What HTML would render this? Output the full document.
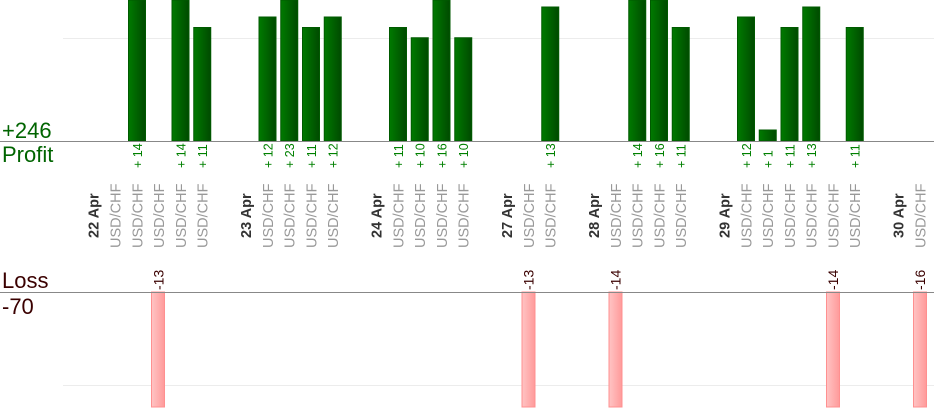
<!DOCTYPE html>
<html><head><meta charset="utf-8"><style>
html,body{margin:0;padding:0;background:#fff;width:934px;height:420px;overflow:hidden}
svg{display:block;font-family:"Liberation Sans",Arial,sans-serif}
</style></head><body>
<svg width="934" height="420" viewBox="0 0 934 420" xmlns="http://www.w3.org/2000/svg">
<defs>
<linearGradient id="g" x1="0" x2="1" y1="0" y2="0"><stop offset="0" stop-color="#007a00"/><stop offset="1" stop-color="#004a00"/></linearGradient>
<linearGradient id="r" x1="0" x2="1" y1="0" y2="0"><stop offset="0" stop-color="#ffc4c4"/><stop offset="1" stop-color="#ff9a9a"/></linearGradient>
</defs>
<line x1="63" x2="934" y1="38.5" y2="38.5" stroke="#ececec"/>
<line x1="63" x2="934" y1="385.5" y2="385.5" stroke="#ececec"/>
<g fill="url(#g)" stroke="#005a00" stroke-width="1">
<rect x="128.5" y="0" width="17" height="141"/>
<rect x="172" y="0" width="17" height="141"/>
<rect x="193.75" y="27.5" width="17" height="113.5"/>
<rect x="259" y="17" width="17" height="124"/>
<rect x="280.75" y="0" width="17" height="141"/>
<rect x="302.5" y="27.5" width="17" height="113.5"/>
<rect x="324.25" y="17" width="17" height="124"/>
<rect x="389.5" y="27.5" width="17" height="113.5"/>
<rect x="411.25" y="37.75" width="17" height="103.25"/>
<rect x="433" y="0" width="17" height="141"/>
<rect x="454.75" y="37.75" width="17" height="103.25"/>
<rect x="541.75" y="7" width="17" height="134"/>
<rect x="628.75" y="0" width="17" height="141"/>
<rect x="650.5" y="0" width="17" height="141"/>
<rect x="672.25" y="27.5" width="17" height="113.5"/>
<rect x="737.5" y="17" width="17" height="124"/>
<rect x="759.25" y="130" width="17" height="11"/>
<rect x="781" y="27.5" width="17" height="113.5"/>
<rect x="802.75" y="7" width="17" height="134"/>
<rect x="846.25" y="27.5" width="17" height="113.5"/>
</g>
<g fill="url(#r)" stroke="#ff9090" stroke-width="1">
<rect x="151.5" y="292" width="13" height="115"/>
<rect x="522" y="292" width="13" height="115"/>
<rect x="609" y="292" width="13" height="115"/>
<rect x="826.5" y="292" width="13" height="115"/>
<rect x="913.5" y="292" width="13" height="115"/>
</g>
<line x1="0" x2="934" y1="141.5" y2="141.5" stroke="#888"/>
<line x1="0" x2="934" y1="292.5" y2="292.5" stroke="#888"/>
<text x="2" y="138" font-size="22" fill="#006400">+246</text>
<text x="2" y="162" font-size="22" fill="#006400">Profit</text>
<text x="2" y="288" font-size="22" fill="#3a0000">Loss</text>
<text x="2" y="314" font-size="22" fill="#3a0000">-70</text>
<g font-size="12.5" fill="#008000">
<text transform="translate(141.75,168) rotate(-90)">+ 14</text>
<text transform="translate(185.25,168) rotate(-90)">+ 14</text>
<text transform="translate(207,168) rotate(-90)">+ 11</text>
<text transform="translate(272.25,168) rotate(-90)">+ 12</text>
<text transform="translate(294,168) rotate(-90)">+ 23</text>
<text transform="translate(315.75,168) rotate(-90)">+ 11</text>
<text transform="translate(337.5,168) rotate(-90)">+ 12</text>
<text transform="translate(402.75,168) rotate(-90)">+ 11</text>
<text transform="translate(424.5,168) rotate(-90)">+ 10</text>
<text transform="translate(446.25,168) rotate(-90)">+ 16</text>
<text transform="translate(468,168) rotate(-90)">+ 10</text>
<text transform="translate(555,168) rotate(-90)">+ 13</text>
<text transform="translate(642,168) rotate(-90)">+ 14</text>
<text transform="translate(663.75,168) rotate(-90)">+ 16</text>
<text transform="translate(685.5,168) rotate(-90)">+ 11</text>
<text transform="translate(750.75,168) rotate(-90)">+ 12</text>
<text transform="translate(772.5,168) rotate(-90)">+ 1</text>
<text transform="translate(794.25,168) rotate(-90)">+ 11</text>
<text transform="translate(816,168) rotate(-90)">+ 13</text>
<text transform="translate(859.5,168) rotate(-90)">+ 11</text>
</g>
<g font-size="14" fill="#3a0000">
<text transform="translate(163.5,290) rotate(-90)">-13</text>
<text transform="translate(533.5,290) rotate(-90)">-13</text>
<text transform="translate(620.5,290) rotate(-90)">-14</text>
<text transform="translate(838,290) rotate(-90)">-14</text>
<text transform="translate(925,290) rotate(-90)">-16</text>
</g>
<g font-size="14.5" font-weight="bold" fill="#333">
<text transform="translate(98.5,238) rotate(-90)">22 Apr</text>
<text transform="translate(250.75,238) rotate(-90)">23 Apr</text>
<text transform="translate(381.25,238) rotate(-90)">24 Apr</text>
<text transform="translate(511.75,238) rotate(-90)">27 Apr</text>
<text transform="translate(598.75,238) rotate(-90)">28 Apr</text>
<text transform="translate(729.25,238) rotate(-90)">29 Apr</text>
<text transform="translate(903.25,238) rotate(-90)">30 Apr</text>
</g>
<g font-size="14.5" fill="#999">
<text transform="translate(120.5,248) rotate(-90)">USD/CHF</text>
<text transform="translate(142.25,248) rotate(-90)">USD/CHF</text>
<text transform="translate(164,248) rotate(-90)">USD/CHF</text>
<text transform="translate(185.75,248) rotate(-90)">USD/CHF</text>
<text transform="translate(207.5,248) rotate(-90)">USD/CHF</text>
<text transform="translate(272.75,248) rotate(-90)">USD/CHF</text>
<text transform="translate(294.5,248) rotate(-90)">USD/CHF</text>
<text transform="translate(316.25,248) rotate(-90)">USD/CHF</text>
<text transform="translate(338,248) rotate(-90)">USD/CHF</text>
<text transform="translate(403.25,248) rotate(-90)">USD/CHF</text>
<text transform="translate(425,248) rotate(-90)">USD/CHF</text>
<text transform="translate(446.75,248) rotate(-90)">USD/CHF</text>
<text transform="translate(468.5,248) rotate(-90)">USD/CHF</text>
<text transform="translate(533.75,248) rotate(-90)">USD/CHF</text>
<text transform="translate(555.5,248) rotate(-90)">USD/CHF</text>
<text transform="translate(620.75,248) rotate(-90)">USD/CHF</text>
<text transform="translate(642.5,248) rotate(-90)">USD/CHF</text>
<text transform="translate(664.25,248) rotate(-90)">USD/CHF</text>
<text transform="translate(686,248) rotate(-90)">USD/CHF</text>
<text transform="translate(751.25,248) rotate(-90)">USD/CHF</text>
<text transform="translate(773,248) rotate(-90)">USD/CHF</text>
<text transform="translate(794.75,248) rotate(-90)">USD/CHF</text>
<text transform="translate(816.5,248) rotate(-90)">USD/CHF</text>
<text transform="translate(838.25,248) rotate(-90)">USD/CHF</text>
<text transform="translate(860,248) rotate(-90)">USD/CHF</text>
<text transform="translate(925.25,248) rotate(-90)">USD/CHF</text>
</g>
</svg>
</body></html>
